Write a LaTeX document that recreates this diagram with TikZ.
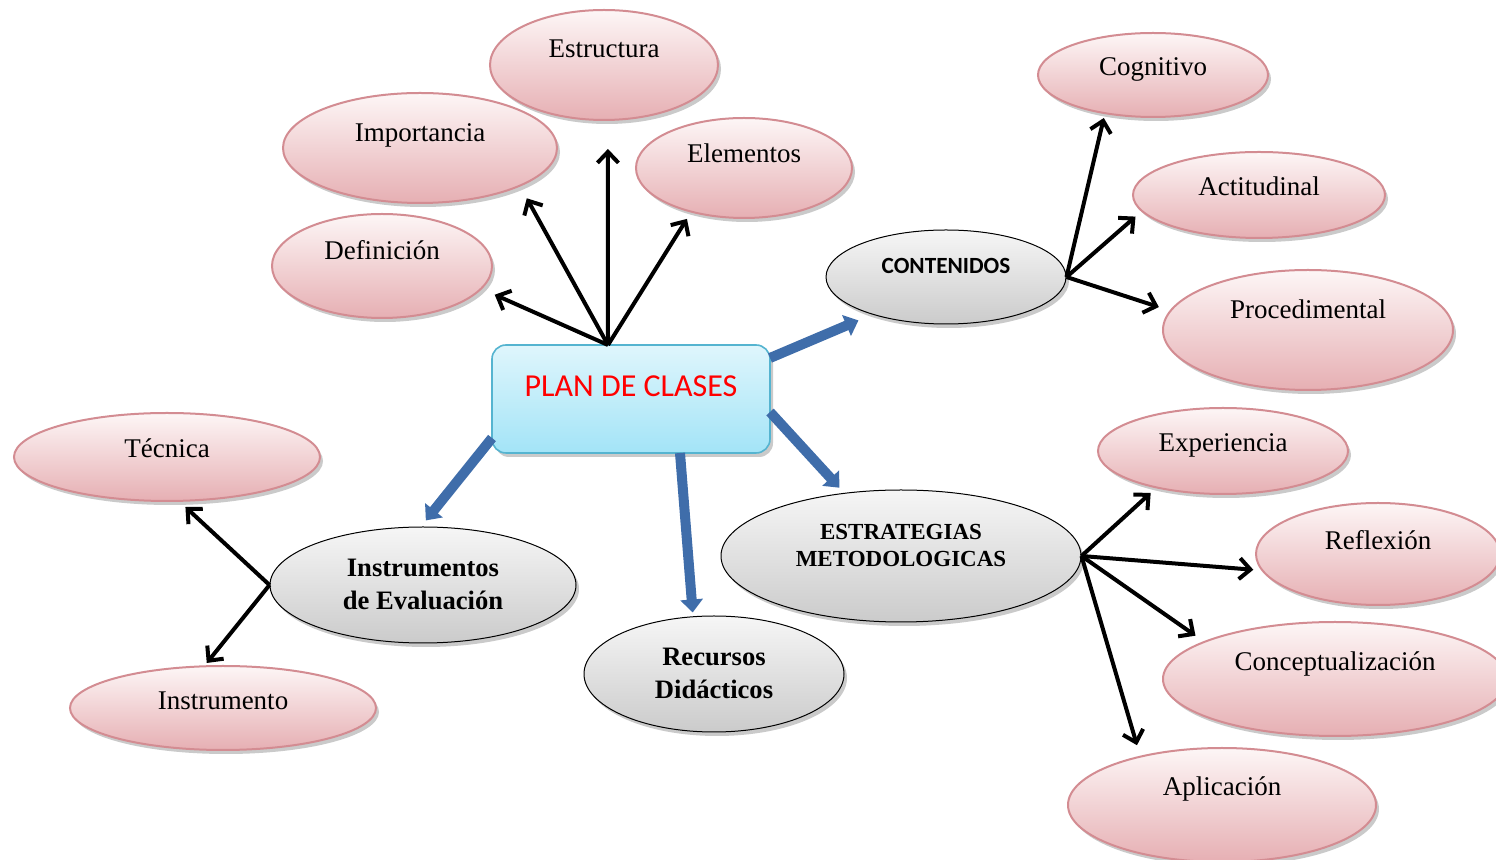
\documentclass[tikz,border=0pt]{standalone}
\usepackage{fontspec}
\setmainfont{Liberation Serif}
\newfontfamily\calibri{Carlito}
\usetikzlibrary{arrows.meta,shapes.geometric,shadows}
\definecolor{pinktop}{HTML}{FDF6F6}
\definecolor{pinkbot}{HTML}{E6AFB3}
\definecolor{pinkline}{HTML}{D38C92}
\definecolor{greytop}{HTML}{F6F6F6}
\definecolor{greybot}{HTML}{CBCBCB}
\definecolor{skytop}{HTML}{DFF6FC}
\definecolor{skybot}{HTML}{A3E4F7}
\definecolor{skyline}{HTML}{55B4D0}
\definecolor{arrowblue}{HTML}{3F6DAA}
\newcommand\up[2]{\smash{\raisebox{#1}{\begin{tabular}{@{}c@{}}#2\end{tabular}}}}
\tikzset{
  soft shadow/.style={drop shadow={shadow xshift=1.5pt, shadow yshift=-2pt, opacity=.35, fill=black!60}},
  topic/.style={ellipse, draw=pinkline, line width=1pt, top color=pinktop, bottom color=pinkbot,
    inner sep=0pt, soft shadow, font=\fontsize{13.5}{16}\selectfont},
  theme/.style={ellipse, draw=black, line width=.5pt, top color=greytop, bottom color=greybot,
    inner sep=0pt, soft shadow, font=\fontsize{13.3}{16.5}\selectfont\bfseries},
  branch/.style={line width=2pt, -{Straight Barb[length=5.5pt,width=10.5pt]}},
  link/.style={draw=arrowblue, line width=5pt, -{Triangle[length=6.5pt,width=11pt]}}
}

\begin{document}
\begin{tikzpicture}[x=0.5pt, y=-0.5pt]
  %%%%% START %%%%%
  \useasboundingbox (0,0) rectangle (1496,860);

  \node[rectangle, rounded corners=7pt, draw=skyline, line width=.8pt, top color=skytop, bottom color=skybot,
    minimum width=139pt, minimum height=54pt, inner sep=0pt, outer sep=0pt, soft shadow,
    text=red, font=\calibri\fontsize{16}{19}\selectfont] (plan) at (631,399) {\up{0.6pt}{PLAN DE CLASES}};

  % upper group
  \node[topic, minimum width=114pt, minimum height=55pt] (estructura) at (604,65) {\up{3.2pt}{Estructura}};
  \node[topic, minimum width=137pt, minimum height=55pt] (importancia) at (420,148) {\up{2.7pt}{Importancia}};
  \node[topic, minimum width=108pt, minimum height=50pt] (elementos) at (744,168) {\up{2.2pt}{Elementos}};
  \node[topic, minimum width=110pt, minimum height=52pt] (definicion) at (382,266) {\up{2.7pt}{Definición}};

  % contenidos
  \node[theme, minimum width=120pt, minimum height=47pt, font=\calibri\fontsize{11.6}{14}\selectfont\bfseries]
    (contenidos) at (946,277) {\up{1.5pt}{CONTENIDOS}};
  \node[topic, minimum width=115pt, minimum height=42pt] (cognitivo) at (1153,75) {\up{-0.8pt}{Cognitivo}};
  \node[topic, minimum width=126pt, minimum height=43pt] (actitudinal) at (1259,195) {\up{-0.8pt}{Actitudinal}};
  \node[topic, minimum width=145pt, minimum height=60pt] (procedimental) at (1308,330) {\up{5.2pt}{Procedimental}};

  % instrumentos
  \node[theme, minimum width=153pt, minimum height=58pt] (instrumentos) at (423,585) {\up{-4.1pt}{Instrumentos\\de Evaluación}};
  \node[topic, minimum width=153pt, minimum height=44pt] (tecnica) at (167,457) {\up{-0.8pt}{Técnica}};
  \node[topic, minimum width=153pt, minimum height=42pt] (instrumento) at (223,708) {\up{-1.3pt}{Instrumento}};

  \node[theme, minimum width=130pt, minimum height=58pt] (recursos) at (714,674) {\up{-4.1pt}{Recursos\\Didácticos}};

  % estrategias
  \node[theme, minimum width=180pt, minimum height=66pt, font=\fontsize{11.5}{13.6}\selectfont\bfseries]
    (estrategias) at (901,556) {\up{1.2pt}{ESTRATEGIAS\\METODOLOGICAS}};
  \node[topic, minimum width=125pt, minimum height=43pt] (experiencia) at (1223,451) {\up{-0.8pt}{Experiencia}};
  \node[topic, minimum width=122pt, minimum height=51pt] (reflexion) at (1378,554) {\up{1.7pt}{Reflexión}};
  \node[topic, minimum width=172pt, minimum height=57pt] (conceptualizacion) at (1335,679) {\up{3.7pt}{Conceptualización}};
  \node[topic, minimum width=154pt, minimum height=57pt] (aplicacion) at (1222,805) {\up{4.2pt}{Aplicación}};

  % black arrows
  \coordinate (hub) at ([xshift=-11.5pt]plan.north);
  \draw[branch, shorten >=7pt] (hub) -- (definicion.-13.4);
  \draw[branch, shorten >=6.75pt] (hub) -- (importancia.-21);
  \draw[branch, shorten >=14pt] (hub) -- (estructura.-86);
  \draw[branch, shorten >=3.75pt] (hub) -- (elementos.-140.6);

  \draw[branch, shorten >=2pt] (contenidos.east) -- (cognitivo.-141.6);
  \draw[branch, shorten >=3.85pt] (contenidos.east) -- (actitudinal.-172.7);
  \draw[branch, shorten >=5.65pt] (contenidos.east) -- (procedimental.172.1);

  \draw[branch, shorten >=3.8pt] (instrumentos.west) -- (tecnica.-74.2);
  \draw[branch, shorten >=1.5pt] (instrumentos.west) -- (instrumento.113.2);

  \draw[branch, shorten >=3.5pt] (estrategias.east) -- (experiencia.-151.9);
  \draw[branch, shorten >=4pt] (estrategias.east) -- (reflexion.-172.9);
  \draw[branch, shorten >=4.9pt] (estrategias.east) -- (conceptualizacion.164);
  \draw[branch, shorten >=5.5pt] (estrategias.east) -- (aplicacion.149.1);

  % blue arrows
  \draw[link, shorten >=7.5pt] ([yshift=20.5pt]plan.east) -- (contenidos.-153.6);
  \draw[link, shorten >=3.5pt] ([yshift=-6.5pt]plan.east) -- (estrategias.132.1);
  \draw[link, shorten >=1.9pt] ([xshift=24.5pt]plan.south) -- (recursos.110.8);
  \draw[link, shorten >=3.9pt] ([yshift=-19.5pt]plan.west) -- (instrumentos.92.9);
  %%%%% END %%%%%
\end{tikzpicture}
\end{document}
